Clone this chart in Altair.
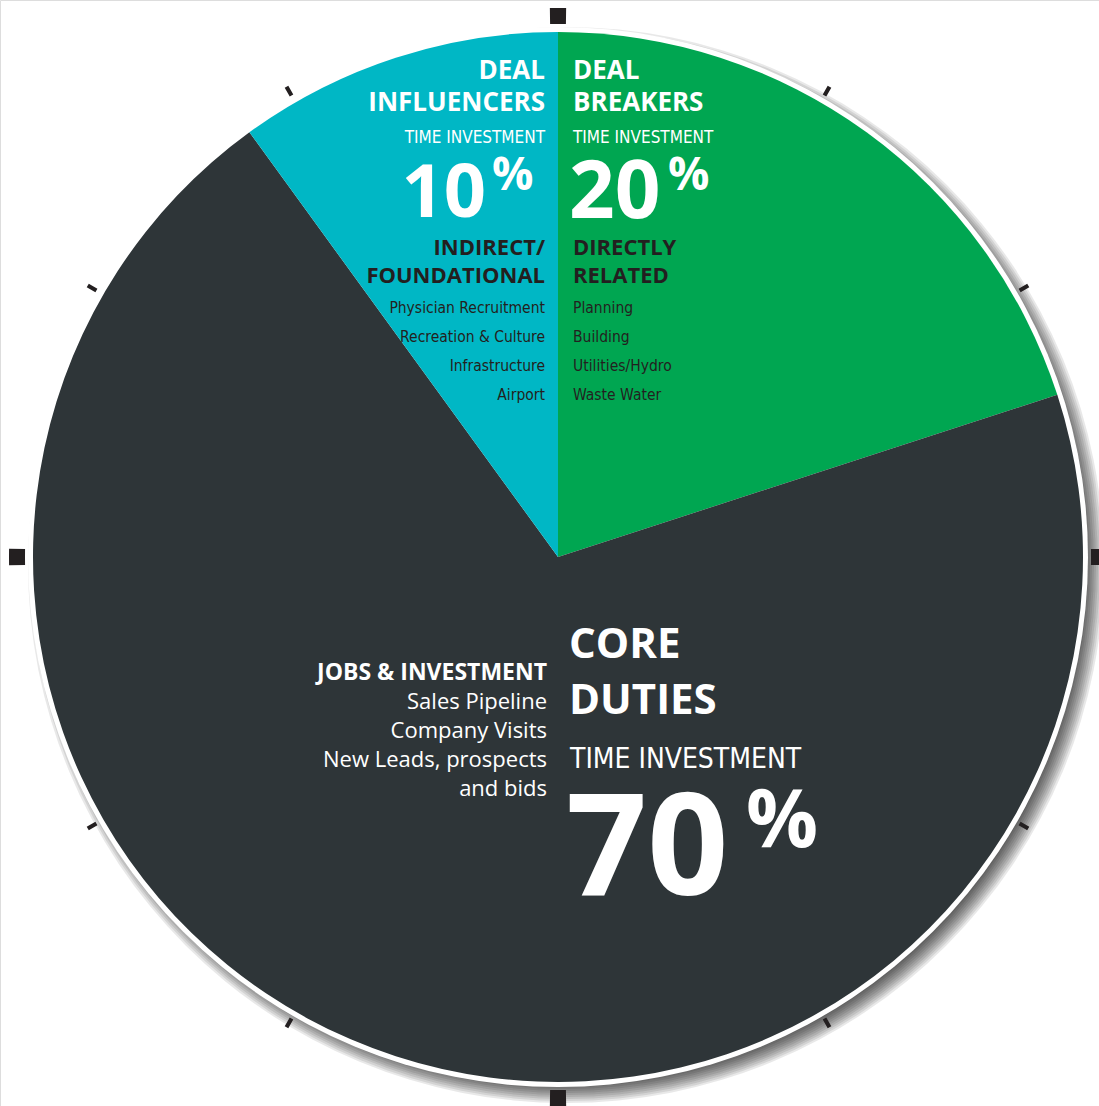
import math
import altair as alt
import pandas as pd

# ---------------- data ----------------
CATEGORIES = ["Deal Breakers", "Core Duties", "Deal Influencers"]
SHARES = [20, 70, 10]
COLORS = ["#00a651", "#2e3538", "#00b7c5"]

TICK_ANGLES = [30, 60, 120, 150, 210, 240, 300, 330]
CARDINAL_ANGLES = [0, 90, 180, 270]

TEAL_TITLE = ["DEAL", "INFLUENCERS"]
GREEN_TITLE = ["DEAL", "BREAKERS"]
TIME_LABEL = "TIME INVESTMENT"
PCT_SIGN = "%"
TEAL_SUB = ["INDIRECT/", "FOUNDATIONAL"]
GREEN_SUB = ["DIRECTLY", "RELATED"]
TEAL_ITEMS = ["Physician Recruitment", "Recreation & Culture", "Infrastructure", "Airport"]
GREEN_ITEMS = ["Planning", "Building", "Utilities/Hydro", "Waste Water"]
CORE_TITLE = ["CORE", "DUTIES"]
CORE_SUB = ["JOBS & INVESTMENT"]
CORE_ITEMS = ["Sales Pipeline", "Company Visits", "New Leads, prospects", "and bids"]

# ---------------- tables ----------------
pie_df = pd.DataFrame({"category": CATEGORIES, "share": SHARES})
pie_df["end"] = pie_df["share"].cumsum() * 3.6
pie_df["start"] = pie_df["end"] - pie_df["share"] * 3.6

full_df = pd.DataFrame({"start": [0.0], "end": [360.0]})
tick_df = pd.DataFrame({"a": TICK_ANGLES})
tick_df["start"] = tick_df["a"] - 0.22
tick_df["end"] = tick_df["a"] + 0.22
card_df = pd.DataFrame({"a": CARDINAL_ANGLES})
card_df["start"] = card_df["a"] - 0.85
card_df["end"] = card_df["a"] + 0.85

theta_scale = alt.Scale(domain=[0, 360], range=[0, 2 * math.pi])
CX, CY = 558, 557
DARK = "#231f20"
BOLD = "Open Sans"
COND = "'DejaVu Sans Condensed', 'Roboto Condensed', Roboto"
REG = "Open Sans"


def arc(df, radius, radius2=0, color=None, opacity=1.0, cx=CX, cy=CY, enc_color=False):
    kw = dict(radius=radius, radius2=radius2, opacity=opacity, stroke=None)
    if color is not None:
        kw["color"] = color
    m = alt.Chart(df).mark_arc(**kw)
    enc = dict(
        theta=alt.Theta("start:Q", scale=theta_scale),
        theta2="end:Q",
        x=alt.value(cx),
        y=alt.value(cy),
    )
    if enc_color:
        enc["color"] = alt.Color("category:N", scale=alt.Scale(domain=CATEGORIES, range=COLORS), legend=None)
    return m.encode(**enc)


def label(lines, x, y, size, font, weight, color, align, lh=None):
    df = pd.DataFrame({"t": ["\n".join(lines)]})
    kw = dict(font=font, fontSize=size, fontWeight=weight, color=color, align=align,
              baseline="alphabetic", lineBreak="\n")
    if lh:
        kw["lineHeight"] = lh
    return alt.Chart(df).mark_text(**kw).encode(text="t:N", x=alt.value(x), y=alt.value(y))


layers = []
# soft shadow
for r in range(520, 540, 2):
    layers.append(arc(full_df, r, color="#000000", opacity=0.09, cx=CX + 8, cy=CY + 8))
# white rim
layers.append(arc(full_df, 530, color="#ffffff"))
# pie
layers.append(arc(pie_df, 525, enc_color=True))
# ticks
layers.append(arc(tick_df, 543, 533, color=DARK))
layers.append(arc(card_df, 549, 533, color=DARK))

pct = dict(zip(CATEGORIES, [str(s) for s in SHARES]))

# teal slice text
layers += [
    label(TEAL_TITLE, 545, 79, 26, BOLD, "bold", "white", "right", 32),
    label([TIME_LABEL], 545, 143, 17, COND, "normal", "white", "right"),
    label([pct["Deal Influencers"]], 486, 217, 74, BOLD, "bold", "white", "right"),
    label([PCT_SIGN], 492, 190, 46, BOLD, "bold", "white", "left"),
    label(TEAL_SUB, 545, 255, 22, BOLD, "bold", DARK, "right", 28),
    label(TEAL_ITEMS, 545, 313, 15.5, COND, "normal", DARK, "right", 29),
]
# green slice text
layers += [
    label(GREEN_TITLE, 573, 79, 26, BOLD, "bold", "white", "left", 32),
    label([TIME_LABEL], 573, 143, 17, COND, "normal", "white", "left"),
    label([pct["Deal Breakers"]], 569, 218, 80, BOLD, "bold", "white", "left"),
    label([PCT_SIGN], 668, 190, 46, BOLD, "bold", "white", "left"),
    label(GREEN_SUB, 573, 255, 22, BOLD, "bold", DARK, "left", 28),
    label(GREEN_ITEMS, 573, 313, 15.5, COND, "normal", DARK, "left", 29),
]
# core slice text
layers += [
    label(CORE_SUB, 547, 680, 23, BOLD, "bold", "white", "right"),
    label(CORE_ITEMS, 547, 709, 22, REG, "normal", "white", "right", 29),
    label(CORE_TITLE, 569, 658, 42, BOLD, "bold", "white", "left", 56),
    label([TIME_LABEL], 570, 768, 28, COND, "normal", "white", "left"),
    label([pct["Core Duties"]], 566, 895, 142, BOLD, "bold", "white", "left"),
    label([PCT_SIGN], 746, 847, 80, BOLD, "bold", "white", "left"),
]

chart = alt.layer(*layers).properties(
    width=1099, height=1106, padding=0, autosize=alt.AutoSizeParams(type="none")
).configure_view(stroke=None).configure(background="white")

chart.save("out.html", embed_options={"renderer": "svg", "actions": False})
